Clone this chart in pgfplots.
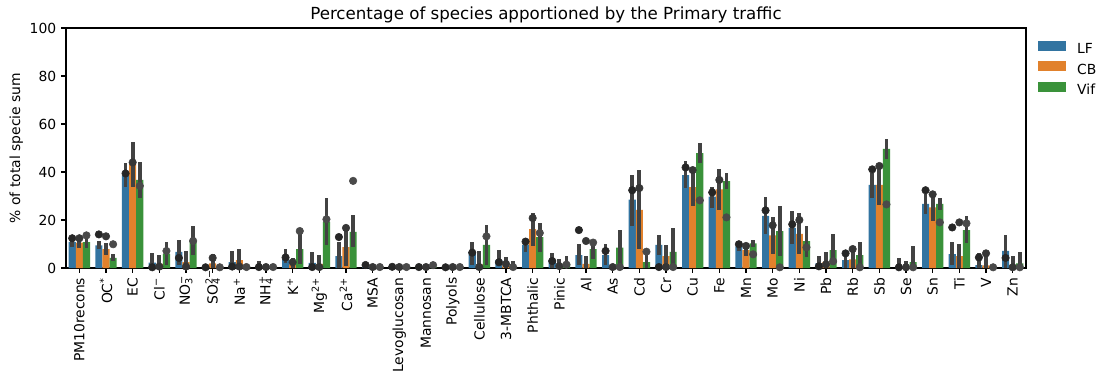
\documentclass[border=0pt]{standalone}
\usepackage{fontspec}
\setmainfont{DejaVu Sans}
\usepackage{pgfplots}
\usepackage{pgfplotstable}
\pgfplotsset{compat=1.18}
\definecolor{cLF}{HTML}{3274A1}
\definecolor{cCB}{HTML}{E1812C}
\definecolor{cVF}{HTML}{3A923A}
\definecolor{errc}{HTML}{424242}
\definecolor{d1}{HTML}{262626}
\definecolor{d2}{HTML}{363636}
\definecolor{d3}{HTML}{4A4A4A}
\newcommand{\subsup}[2]{\rlap{\textsuperscript{#2}}\textsubscript{#1}}

% x bar lo hi dot
\pgfplotstableread{
x bar lo hi dot
0 10.8 8.9 13.1 12.4
1 9.4 7.9 11.3 14.0
2 38.6 33.9 43.6 39.4
3 2.2 0 6.1 0.3
4 6.7 1.4 11.7 4.2
5 0.6 0.2 1.0 0.3
6 2.5 0 6.9 0.6
7 0.8 0 2.8 0.4
8 3.9 2.2 7.9 4.4
9 2.1 0 6.7 0.4
10 5.0 0 10.8 12.9
11 0.5 0 1.9 1.25
12 0.3 0.1 0.6 0.5
13 0.3 0.1 0.5 0.4
14 0.2 0.1 0.4 0.3
15 6.7 1.4 10.7 6.4
16 3.3 1.4 7.5 2.4
17 9.6 6.5 12.4 11.0
18 3.3 0 6.25 2.9
19 5.4 1.25 10.0 15.8
20 5.4 1.4 10.0 7.1
21 28.5 17.6 38.75 32.4
22 9.6 5.4 13.75 0.4
23 38.75 33.5 44.4 41.9
24 29.7 25.1 33.6 31.5
25 9.0 7.2 11.0 9.9
26 21.7 14.3 29.4 24.0
27 16.7 9.9 23.6 18.2
28 1.9 0 5.0 0.7
29 3.3 0 6.8 6.1
30 34.6 29.3 39.7 41.1
31 0.8 0 4.2 0.3
32 26.7 22.5 30.8 32.4
33 5.8 1.4 10.7 16.9
34 1.25 0 6.1 4.4
35 7.1 0 13.6 4.2
}\lf

\pgfplotstableread{
x bar lo hi dot
0 10.6 8.2 13.3 12.4
1 7.9 5.4 10.3 13.2
2 43.3 33.9 52.4 44.0
3 1.7 0 5.3 0.6
4 2.4 0 6.9 0.6
5 1.9 0 5.8 4.2
6 3.3 0 7.9 0.6
7 0.5 0.2 0.8 0.4
8 1.4 0 4.2 2.4
9 1.7 0 5.4 0.4
10 8.75 0.8 17.5 16.7
11 0.3 0.1 0.5 0.4
12 0.2 0.1 0.4 0.4
13 0.3 0.1 0.5 0.4
14 0.2 0.1 0.4 0.4
15 1.5 0 7.1 0.4
16 1.4 0 4.6 1.7
17 16.25 9.2 22.8 20.8
18 0.8 0 3.75 0.8
19 1.7 0 5.0 11.25
20 0.1 0 0.3 0.4
21 24.2 7.8 40.7 33.3
22 5.0 0 9.6 0.4
23 33.75 25.8 40.1 40.8
24 32.8 24.2 41.25 36.7
25 7.5 5.1 10.3 9.2
26 13.6 5.8 21.1 17.8
27 14.2 6.0 22.9 20.0
28 2.4 0 6.5 1.5
29 3.6 0 8.3 7.9
30 34.6 26.4 42.1 42.5
31 0.6 0 2.9 0.3
32 25.3 19.7 29.7 30.7
33 5.0 0 9.9 19.0
34 1.1 0 7.2 6.1
35 1.25 0 5.0 0.3
}\cb

\pgfplotstableread{
x bar lo hi dot
0 10.8 8.2 14.4 13.6
1 4.2 2.8 5.8 9.9
2 36.7 29.3 44.0 34.2
3 5.8 1.4 10.7 7.1
4 11.3 5.6 17.4 11.3
5 0.1 0 0.3 0.3
6 0.5 0.1 0.9 0.4
7 0.4 0.1 0.6 0.4
8 7.9 1.5 15.4 15.4
9 19.2 9.6 29.0 20.3
10 15.1 8.6 22.1 36.3
11 0.2 0.1 0.4 0.4
12 0.2 0.1 0.4 0.4
13 0.6 0.2 1.2 1.2
14 0.2 0.1 0.4 0.4
15 9.6 1.4 17.8 13.2
16 0.6 0 2.9 0.4
17 12.9 6.8 18.75 14.6
18 1.9 0 5.0 1.4
19 7.9 3.75 11.7 10.6
20 8.5 0 15.8 0.4
21 2.5 0 7.9 6.8
22 6.7 0 16.7 0.4
23 47.9 43.9 52.1 28.2
24 36.25 32.9 39.4 21.1
25 10.3 8.6 11.7 5.7
26 15.4 5.0 25.7 0.3
27 11.25 4.7 17.4 8.6
28 7.5 1.4 14.0 2.8
29 5.4 0 10.8 0.3
30 49.6 45.4 53.75 26.5
31 2.5 0 9.2 0.3
32 26.7 24.2 29.0 19.0
33 15.8 10.6 21.5 18.6
34 0.3 0 0.6 0.3
35 1.9 0 6.7 0.3
}\vf

\begin{document}
\begin{tikzpicture}
\path[use as bounding box] (-47.52pt,-80.64pt) rectangle (748.8pt,192.96pt);
\begin{axis}[
  scale only axis,
  width=691.2pt, height=172.8pt,
  xmin=-0.5, xmax=35.5, ymin=0, ymax=100,
  xtick={0,...,35},
  xticklabels={PM10recons,OC\textsuperscript{*},EC,Cl\textsuperscript{−},NO\subsup{3}{−},SO\subsup{4}{2−},Na\textsuperscript{+},NH\subsup{4}{+},K\textsuperscript{+},Mg\textsuperscript{2+},Ca\textsuperscript{2+},MSA,Levoglucosan,Mannosan,Polyols,Cellulose,3-MBTCA,Phthalic,Pinic,Al,As,Cd,Cr,Cu,Fe,Mn,Mo,Ni,Pb,Rb,Sb,Se,Sn,Ti,V,Zn},
  xticklabel style={rotate=90, anchor=east, font=\fontsize{10}{12}\selectfont},
  ytick={0,20,40,60,80,100},
  yticklabel style={font=\fontsize{10}{12}\selectfont},
  /pgf/number format/assume math mode=true,
  tick align=outside, xtick pos=bottom, ytick pos=left,
  major tick length=3.5pt,
  tick style={black, line width=0.8pt},
  axis line style={black, line width=0.8pt},
  ylabel={\% of total specie sum},
  ylabel style={font=\fontsize{10}{12}\selectfont, xshift=0pt, yshift=-2pt},
  title={Percentage of species apportioned by the Primary traffic},
  title style={font=\fontsize{12}{14}\selectfont, at={(0.5,1)}, anchor=south, inner sep=0pt, yshift=-2.6pt},
  legend style={at={(1,1)}, anchor=north west, xshift=8.64pt, yshift=-9.2pt,
    draw=none, fill=none, inner sep=0pt, row sep=3pt, column sep=8pt,
    font=\fontsize{10}{12}\selectfont,
    nodes={inner sep=0pt, text height=7.5pt, text depth=2.5pt}},
  legend cell align=left,
  legend image code/.code={\fill[#1] (0pt,-0.3pt) rectangle (20pt,6.7pt);},
]
\addplot[ybar, bar width=0.2667, bar shift=0pt, fill=cLF, draw=none] table[x expr=\thisrow{x}-0.2667, y=bar] {\lf};
\addlegendentry{LF}
\addplot[ybar, bar width=0.2667, bar shift=0pt, fill=cCB, draw=none] table[x=x, y=bar] {\cb};
\addlegendentry{CB}
\addplot[ybar, bar width=0.2667, bar shift=0pt, fill=cVF, draw=none] table[x expr=\thisrow{x}+0.2667, y=bar] {\vf};
\addlegendentry{Vif}

\pgfplotsset{errs/.style={draw=none, mark=none, forget plot,
  error bars/.cd, y dir=both, y explicit, error mark=none,
  error bar style={draw=errc, line width=2.7pt}}}
\addplot[errs] table[x expr=\thisrow{x}-0.2667, y expr={(\thisrow{lo}+\thisrow{hi})/2}, y error expr={(\thisrow{hi}-\thisrow{lo})/2}] {\lf};
\addplot[errs] table[x=x, y expr={(\thisrow{lo}+\thisrow{hi})/2}, y error expr={(\thisrow{hi}-\thisrow{lo})/2}] {\cb};
\addplot[errs] table[x expr=\thisrow{x}+0.2667, y expr={(\thisrow{lo}+\thisrow{hi})/2}, y error expr={(\thisrow{hi}-\thisrow{lo})/2}] {\vf};

\addplot[only marks, mark=*, mark size=2.7pt, color=d1, forget plot] table[x expr=\thisrow{x}-0.2667, y=dot] {\lf};
\addplot[only marks, mark=*, mark size=2.7pt, color=d2, forget plot] table[x=x, y=dot] {\cb};
\addplot[only marks, mark=*, mark size=2.7pt, color=d3, forget plot] table[x expr=\thisrow{x}+0.2667, y=dot] {\vf};
\end{axis}
\end{tikzpicture}
\end{document}
